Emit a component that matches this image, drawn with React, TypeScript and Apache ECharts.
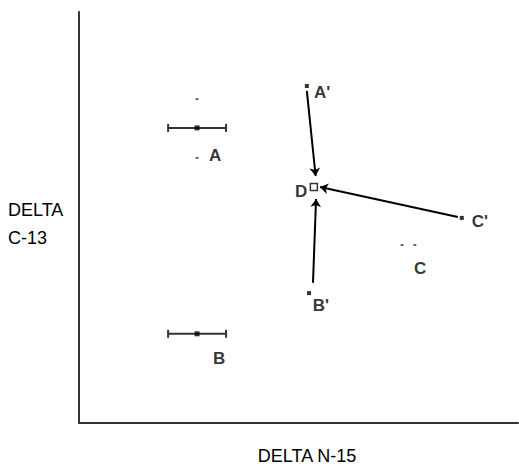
import React, { useEffect, useRef } from "react";
import * as echarts from "echarts";

// Data in arbitrary units (x: DELTA N-15, y: DELTA C-13), axes 0..100
const errorBars = [
  // [low, y, high]
  [20.3, 71.8, 33.5], // A
  [20.3, 21.7, 33.5], // B
];
const centers = [
  { name: "A", value: [26.9, 71.8] },
  { name: "B", value: [26.9, 21.7] },
];
const minorDots = [
  [26.9, 78.8],
  [26.9, 64.5],
  [73.6, 43.3],
  [76.5, 43.3],
];
const primePoints = [
  { name: "A'", value: [51.9, 82.0] },
  { name: "B'", value: [52.4, 31.6] },
  { name: "C'", value: [87.2, 49.9] },
];
const dPoint = { name: "D", value: [53.5, 57.4] };
const arrows = [
  [[51.9, 80.8], [53.9, 60.1]],
  [[86.3, 50.1], [54.9, 57.4]],
  [[53.3, 34.1], [54.0, 54.5]],
];
const textLabels = [
  { name: "A", value: [31.0, 65.2] },
  { name: "B", value: [31.9, 15.8] },
  { name: "A'", value: [55.4, 80.5] },
  { name: "B'", value: [55.1, 28.5] },
  { name: "C'", value: [91.3, 49.1] },
  { name: "C", value: [77.7, 37.7] },
  { name: "D", value: [50.6, 56.4] },
];
const xAxisTitle = "DELTA N-15";
const yAxisTitle = "DELTA\nC-13";

export default function App() {
  const ref = useRef<HTMLDivElement>(null);
  useEffect(() => {
    if (!ref.current) return;
    const chart = echarts.init(ref.current, undefined, { renderer: "svg" });
    const font = "'Liberation Sans', Arial, sans-serif";
    chart.setOption({
      animation: false,
      backgroundColor: "#fff",
      grid: { left: 79, right: 1, top: 12, bottom: 43 },
      xAxis: {
        type: "value",
        min: 0,
        max: 100,
        axisLine: { show: true, lineStyle: { color: "#333", width: 2 } },
        axisTick: { show: false },
        axisLabel: { show: false },
        splitLine: { show: false },
      },
      yAxis: {
        type: "value",
        min: 0,
        max: 100,
        axisLine: { show: true, lineStyle: { color: "#333", width: 2 } },
        axisTick: { show: false },
        axisLabel: { show: false },
        splitLine: { show: false },
      },
      graphic: [
        {
          type: "text",
          left: 8,
          top: 196,
          style: {
            text: yAxisTitle,
            fontFamily: font,
            fontSize: 18,
            lineHeight: 28,
            fill: "#000",
          },
        },
        {
          type: "text",
          x: 307,
          y: 456,
          style: {
            text: xAxisTitle,
            fontFamily: font,
            fontSize: 18,
            align: "center",
            verticalAlign: "middle",
            fill: "#000",
          },
        },
      ],
      series: [
        {
          type: "custom",
          data: errorBars,
          renderItem: (params: any, api: any) => {
            const y = api.value(1);
            const p1 = api.coord([api.value(0), y]);
            const p2 = api.coord([api.value(2), y]);
            const st = { stroke: "#333", lineWidth: 2 };
            return {
              type: "group",
              children: [
                { type: "line", shape: { x1: p1[0], y1: p1[1], x2: p2[0], y2: p2[1] }, style: st },
                { type: "line", shape: { x1: p1[0], y1: p1[1] - 4, x2: p1[0], y2: p1[1] + 4 }, style: st },
                { type: "line", shape: { x1: p2[0], y1: p2[1] - 4, x2: p2[0], y2: p2[1] + 4 }, style: st },
              ],
            };
          },
        },
        {
          type: "scatter",
          data: centers,
          symbol: "rect",
          symbolSize: 5,
          itemStyle: { color: "#000" },
        },
        {
          type: "scatter",
          data: minorDots,
          symbol: "rect",
          symbolSize: [3, 2],
          itemStyle: { color: "#444" },
        },
        {
          type: "lines",
          coordinateSystem: "cartesian2d",
          data: arrows.map((c) => ({ coords: c })),
          symbol: ["none", "arrow"],
          symbolSize: 8,
          lineStyle: { color: "#000", width: 2, opacity: 1 },
        },
        {
          type: "scatter",
          data: primePoints,
          symbol: "rect",
          symbolSize: 4,
          itemStyle: { color: "#000" },
        },
        {
          type: "scatter",
          data: [dPoint],
          symbol: "rect",
          symbolSize: 7,
          itemStyle: { color: "#fff", borderColor: "#000", borderWidth: 1.5 },
        },
        {
          type: "scatter",
          data: textLabels,
          symbolSize: 0,
          silent: true,
          label: {
            show: true,
            position: "inside",
            formatter: (p: any) => p.name,
            fontFamily: font,
            fontSize: 17,
            fontWeight: "bold",
            color: "#000",
          },
        },
      ],
    });
    return () => chart.dispose();
  }, []);
  return (
    <div
      ref={ref}
      style={{ position: "absolute", left: 0, top: 0, width: 519, height: 466 }}
    />
  );
}
